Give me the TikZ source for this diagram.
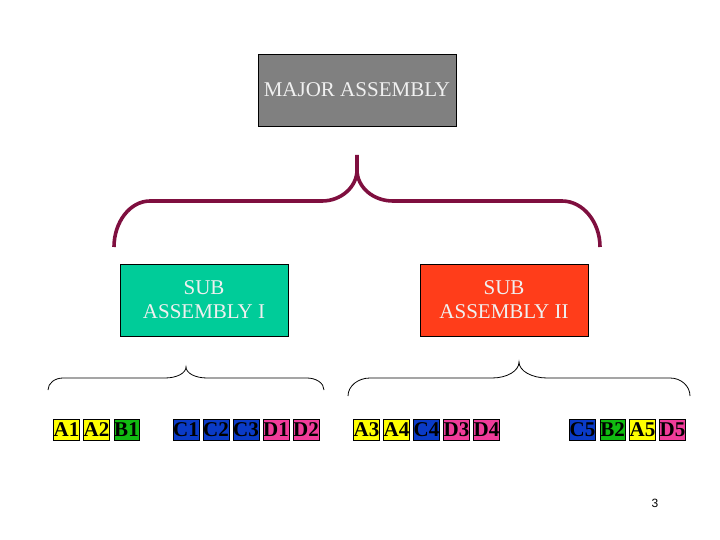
\documentclass[tikz,border=0pt]{standalone}
\usepackage{fontspec}
\setmainfont{Liberation Serif}
\newfontfamily\pagefont{Liberation Sans}
\definecolor{majgray}{HTML}{808080}
\definecolor{subgreen}{HTML}{00CC99}
\definecolor{subred}{HTML}{FF3D1A}
\definecolor{bracecol}{HTML}{7F0F3F}
\definecolor{pyellow}{HTML}{FFFF00}
\definecolor{pgreen}{HTML}{11BB11}
\definecolor{pblue}{HTML}{0A3BC8}
\definecolor{ppink}{HTML}{F03C9A}
\tikzset{
  bigbox/.style={draw=black, line width=0.8pt, minimum width=198pt, minimum height=72pt, inner sep=0pt, text=white!94!black, font=\fontsize{21}{24}\selectfont},
  subbox/.style={draw=black, line width=0.8pt, minimum width=168pt, minimum height=72pt, inner sep=0pt, text=white!94!black, align=center, font=\fontsize{21}{24}\selectfont},
  part/.style={draw=black, line width=0.6pt, minimum width=25pt, minimum height=21pt, inner sep=0pt, font=\fontsize{21}{21}\selectfont\bfseries, text=black},
  py/.style={part, fill=pyellow},
  pg/.style={part, fill=pgreen},
  pb/.style={part, fill=pblue},
  pp/.style={part, fill=ppink},
  bigbrace/.style={draw=bracecol, line width=3.6pt},
  smallbrace/.style={draw=black, line width=0.8pt}
}
\begin{document}
\begin{tikzpicture}[x=1pt, y=-1pt]
\useasboundingbox (0,0) rectangle (720,540);
% main boxes
\node[bigbox, fill=majgray] (major) at (357,90) {MAJOR ASSEMBLY};
\node[subbox, fill=subgreen] (sub1) at (204,300) {SUB\\ASSEMBLY I};
\node[subbox, fill=subred] (sub2) at (504,300) {SUB\\ASSEMBLY II};
% big brace
\draw[bigbrace] (114,247) .. controls (114,222) and (130,201) .. (150,201)
  -- (322,201) .. controls (341,201) and (357,187) .. (357,170) -- (357,155)
  -- (357,170) .. controls (357,187) and (373,201) .. (393,201)
  -- (562,201) .. controls (583,201) and (600,222) .. (600,247);
% small braces
\draw[smallbrace] (48,390) .. controls (48,383) and (55,378) .. (63,378)
  -- (165,378) .. controls (177,378) and (186,373) .. (186,367)
  .. controls (186,373) and (195,378) .. (207,378)
  -- (307,378) .. controls (316,378) and (324,383) .. (324,390);
\draw[smallbrace] (348,396) .. controls (348,386) and (358,378) .. (370,378)
  -- (492,378) .. controls (507,378) and (519,371) .. (519,362)
  .. controls (519,371) and (532,378) .. (547,378)
  -- (670,378) .. controls (681,378) and (690,386) .. (690,396);
% parts
\node[py] (a1) at (66.5,429.5) {A1};
\node[py] (a2) at (96.5,429.5) {A2};
\node[pg] (b1) at (126.5,429.5) {B1};
\node[pb] (c1) at (186,429.5) {C1};
\node[pb] (c2) at (216,429.5) {C2};
\node[pb] (c3) at (246,429.5) {C3};
\node[pp] (d1) at (276,429.5) {D1};
\node[pp] (d2) at (306,429.5) {D2};
\node[py] (a3) at (366.5,429.5) {A3};
\node[py] (a4) at (396.5,429.5) {A4};
\node[pb] (c4) at (426.5,429.5) {C4};
\node[pp] (d3) at (456.5,429.5) {D3};
\node[pp] (d4) at (486.5,429.5) {D4};
\node[pb] (c5) at (582.5,429.5) {C5};
\node[pg] (b2) at (612.5,429.5) {B2};
\node[py] (a5) at (642.5,429.5) {A5};
\node[pp] (d5) at (672.5,429.5) {D5};
% page number
\node[font=\pagefont\fontsize{12}{12}\selectfont, inner sep=0pt] (pnum) at (655,503) {3};
\end{tikzpicture}
\end{document}
